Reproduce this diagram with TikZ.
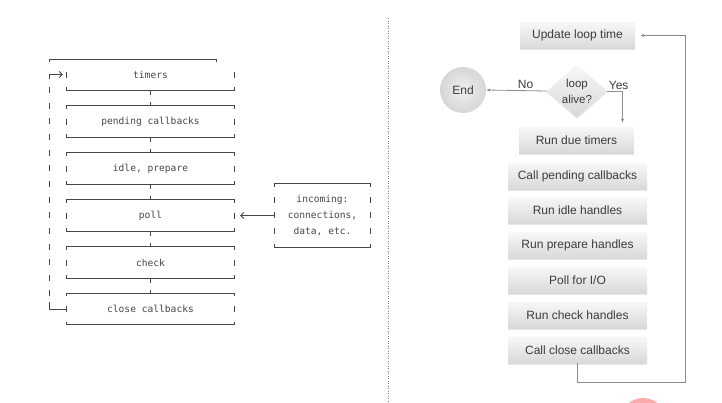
\documentclass[tikz,border=0pt]{standalone}
\usepackage{fontspec}
\newfontfamily\asciifont{DejaVu Sans Mono}
\newfontfamily\flowfont{Liberation Sans}
\usepackage{tikz}
\usetikzlibrary{arrows.meta}
\usetikzlibrary{calc}
\usepackage{xcolor}
\usetikzlibrary{arrows.meta,shapes.geometric,shadows}

\definecolor{asciigray}{RGB}{70,70,70}
\definecolor{flowtext}{RGB}{60,60,60}
\definecolor{flowline}{RGB}{140,140,140}
\definecolor{blobpink}{RGB}{250,170,170}

\tikzset{
	ascii/.style={draw=asciigray, line width=0.9pt},
	phase/.style={font=\asciifont\fontsize{9.6}{15.6}\selectfont, text=asciigray, minimum width=167pt, minimum height=31pt, inner sep=0pt},
	flowbox/.style={font=\flowfont\fontsize{12}{14}\selectfont, text=flowtext, minimum height=26pt, inner sep=0pt, top color=gray!6, bottom color=gray!30, drop shadow={shadow xshift=0pt, shadow yshift=-1.5pt, opacity=0.2, fill=gray}},
	flow/.style={draw=flowline, line width=0.8pt, -{Latex[length=4pt,width=3.5pt]}},
	lbl/.style={font=\flowfont\fontsize{12}{14}\selectfont, text=flowtext, inner sep=1.5pt},
	barb/.style={-{Straight Barb[length=3pt,width=6pt]}},
}

% ascii box pieces
\newcommand{\asciitop}[1]{\draw[ascii] ([yshift=-3pt]#1.north west) -- (#1.north west) -- (#1.north east) -- ([yshift=-3pt]#1.north east);}
\newcommand{\asciibottom}[1]{\draw[ascii] ([yshift=3pt]#1.south west) -- (#1.south west) -- (#1.south east) -- ([yshift=3pt]#1.south east);}
\newcommand{\asciisides}[1]{%
	\draw[ascii] ([yshift=3pt]#1.west) -- ([yshift=-3pt]#1.west);
	\draw[ascii] ([yshift=3pt]#1.east) -- ([yshift=-3pt]#1.east);}

\begin{document}
\begin{tikzpicture}[x=1pt,y=-1pt]
			\useasboundingbox (0,0) rectangle (722,402);
			
			% phases (ascii)
			\node[phase] (timers)  at (150.5,74.5)  {timers};
			\node[phase] (pending) at (150.5,121.5) {pending callbacks};
			\node[phase] (idle)    at (150.5,168.5) {idle, prepare};
			\node[phase] (poll)    at (150.5,215.5) {poll};
			\node[phase] (check)   at (150.5,262.5) {check};
			\node[phase] (closecb) at (150.5,309)   {close callbacks};
			
			% outer top line
			\draw[ascii] (49,62) -- (49,59) -- (216,59) -- (216,62);
			
			% borders
			\asciibottom{timers}
			\asciisides{timers}
			\foreach \p in {pending,idle,poll,check,closecb} {
				\asciitop{\p}
				\asciibottom{\p}
				\asciisides{\p}
			}
			
			% links between phases
			\foreach \a/\b in {timers/pending,pending/idle,idle/poll,poll/check,check/closecb}
				\draw[ascii, dash pattern=on 5pt off 7pt] (\a.south) -- (\b.north);
			
			% loop back on the left
			\coordinate (looptop) at (49,74.5);
			\coordinate (loopbot) at (49,309);
			\draw[ascii] (closecb.west) -- (loopbot) -- ++(0,-7);
			\draw[ascii, dash pattern=on 6pt off 9.65pt] (49,87) -- (49,297);
			\draw[ascii] ([yshift=-4pt]looptop) -- (looptop);
			\draw[ascii, barb] (looptop) -- ([xshift=-4pt]timers.west);
			
			% incoming
			\node[phase, minimum width=95pt, minimum height=63pt, align=center] (incoming) at (322.5,215.5) {incoming:\\connections,\\data, etc.};
			\asciitop{incoming}
			\asciibottom{incoming}
			\draw[ascii, dash pattern=on 6pt off 9.65pt] ([yshift=-13pt]incoming.north west) -- ([yshift=10pt]incoming.south west);
			\draw[ascii, dash pattern=on 6pt off 9.65pt] ([yshift=-13pt]incoming.north east) -- ([yshift=10pt]incoming.south east);
			\draw[ascii, barb] (incoming.west) -- ([xshift=6pt]poll.east);
			
			% separator
			\draw[gray, dash pattern=on 1pt off 1.5pt] (388,18) -- (388,402);
			
			% flow chart
			\node[flowbox, minimum width=115pt] (update) at (577.5,35.5) {Update loop time};
			\node[flowbox, diamond, aspect=1.15, minimum width=60pt, minimum height=53pt, align=center, font=\flowfont\fontsize{11.5}{16}\selectfont] (alive) at (577,91) {loop\\alive?};
			\node[circle, minimum size=46pt, inner sep=0pt, inner color=gray!12, outer color=gray!32, font=\flowfont\fontsize{12}{14}\selectfont, text=flowtext] (endnode) at (463,90) {End};
			\node[flowbox, minimum width=115pt] (duetimers) at (576.5,140) {Run due timers};
			\node[flowbox, minimum width=139pt] (pendingcb) at (577.5,176)   {Call pending callbacks};
			\node[flowbox, minimum width=139pt] (idlecb)    at (577.5,210.5) {Run idle handles};
			\node[flowbox, minimum width=139pt] (preparecb) at (577.5,245.5) {Run prepare handles};
			\node[flowbox, minimum width=139pt] (pollio)    at (577.5,280)   {Poll for I/O};
			\node[flowbox, minimum width=139pt] (checkcb)   at (577.5,315)   {Run check handles};
			\node[flowbox, minimum width=139pt] (closecb2)  at (577.5,350)   {Call close callbacks};
			
			% yes / no
			\draw[flow] (alive.west) -- node[lbl, above, pos=0.35] {No} (endnode.east);
			\draw[flow] (alive.east) -| ([xshift=46pt,yshift=4pt]duetimers.north);
			\node[lbl, above right] (yeslbl) at (alive.east) {Yes};
			
			% back to the top
			\coordinate (backcorner) at (685,382);
			\draw[flow] (closecb2.south) |- (backcorner) |- ([xshift=5pt]update.east);
			
			% pink blob
			\begin{scope}
				\clip (0,0) rectangle (722,402);
				\fill[blobpink] (643,421) circle (23);
			\end{scope}
			
		\end{tikzpicture}
\end{document}
